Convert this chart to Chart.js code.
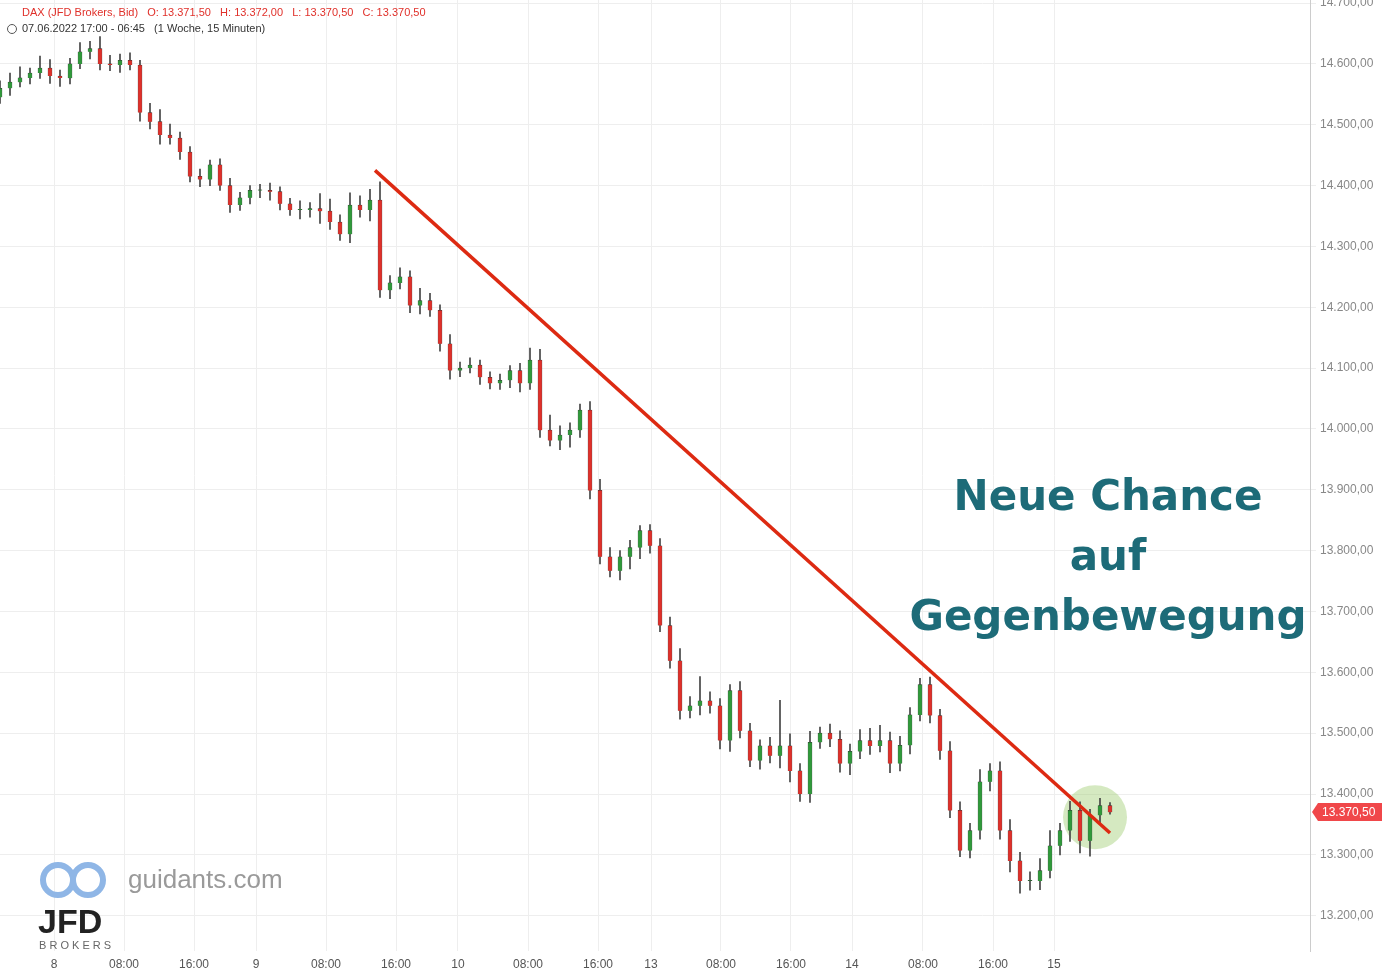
<!DOCTYPE html>
<html><head><meta charset="utf-8">
<script src="https://cdn.jsdelivr.net/npm/chart.js@4.4.1/dist/chart.umd.min.js"></script>
<style>html,body{margin:0;padding:0;background:#fff}#w{width:1382px;height:973px}</style>
</head><body><div id="w"><canvas id="c"></canvas></div>
<script>
// closes, one candle per slot
const closes=[14560,14570,14577,14585,14593,14580,14577,14600,14620,14625,14600,14598,14606,14598,14520,14505,14483,14478,14455,14415,14410,14434,14400,14368,14380,14392,14392,14390,14370,14360,14360,14362,14358,14340,14320,14368,14360,14376,14228,14240,14250,14203,14211,14195,14140,14096,14100,14105,14085,14075,14080,14096,14075,14113,13998,13981,13990,13998,14031,13899,13790,13767,13790,13805,13833,13808,13677,13619,13537,13545,13553,13545,13488,13570,13504,13455,13479,13463,13479,13438,13400,13485,13500,13490,13450,13470,13488,13479,13488,13450,13480,13530,13580,13529,13471,13373,13307,13340,13420,13438,13340,13290,13257,13257,13274,13315,13340,13373,13323,13365,13381,13370];
const firstOpen=14545;
const hiWick=[12,15,18,8,20,14,10,9,15,12,20,14,10,12,8,15,20,18,10,9,12,8,10,12,9,8,10,12,8,9,15,10,25,20,12,20,15,18,30,12,15,10,20,12,9,15,10,12,8,9,10,8,12,20,18,25,15,12,10,14,18,15,10,12,8,10,12,14,20,15,40,15,12,10,15,12,10,14,75,20,12,18,10,15,14,12,18,20,25,14,15,12,10,12,10,15,14,12,20,12,15,18,14,15,20,25,12,15,14,10,12,5];
const loWick=[10,12,8,10,9,12,14,10,8,12,10,9,12,8,14,12,15,10,12,9,12,10,8,12,9,10,12,14,10,9,15,12,20,12,10,14,12,18,12,14,10,12,14,10,12,14,10,8,12,9,10,12,14,10,12,9,15,20,12,14,12,10,15,20,18,12,10,12,14,12,15,12,14,18,12,10,14,12,20,18,12,14,10,12,14,18,12,14,10,15,12,14,10,12,14,12,10,12,14,15,14,18,20,15,14,12,15,18,20,25,14,3];
const tickPos=[5.4,12.4,19.4,25.6,32.6,39.6,45.8,52.8,59.8,65.1,72.1,79.1,85.2,92.3,99.3,105.4];
const tickLabels=['8','08:00','16:00','9','08:00','16:00','10','08:00','16:00','13','08:00','16:00','14','08:00','16:00','15'];
const trendStart={x:37.5,y:14425}, trendEnd={x:111,y:13336};
const lastPrice=13370.5;

const body=[],wick=[],colors=[];
closes.forEach((c,i)=>{const o=i?closes[i-1]:firstOpen;const x=i;
 body.push({x,y:[o,c===o?c+1:c]});wick.push({x,y:[Math.min(o,c)-loWick[i],Math.max(o,c)+hiWick[i]]});
 colors.push(c>=o?'#2f9a3a':'#e0302a');});
const fmt=v=>v.toLocaleString('de-DE',{minimumFractionDigits:2,maximumFractionDigits:2});

const deco={id:'deco',afterDraw(ch){const g=ch.ctx;g.save();
 g.font='11px "Liberation Sans"';g.fillStyle='#e0302a';g.textBaseline='middle';
 g.fillText('DAX (JFD Brokers, Bid)   O: 13.371,50   H: 13.372,00   L: 13.370,50   C: 13.370,50',22,13);
 g.fillStyle='#333';g.fillText('07.06.2022 17:00 - 06:45   (1 Woche, 15 Minuten)',22,29);
 g.strokeStyle='#555';g.beginPath();g.arc(12,29,4.5,0,7);g.stroke();
 g.fillStyle='#1d6b78';g.font='bold 42px "DejaVu Sans"';g.textAlign='center';
 g.fillText('Neue Chance',1108,499);g.fillText('auf',1108,559);g.fillText('Gegenbewegung',1108,619);
 g.textAlign='left';g.font='26px "Liberation Sans"';g.fillStyle='#9a9a9a';g.fillText('guidants.com',128,881);
 g.lineWidth=6;g.strokeStyle='#8fb6e6';g.beginPath();g.arc(58,880,15,0,7);g.stroke();g.beginPath();g.arc(88,880,15,0,7);g.stroke();
 g.font='bold 34px "Liberation Sans"';g.fillStyle='#222';g.fillText('JFD',38,924);
 g.font='11px "Liberation Sans"';g.fillStyle='#666';g.fillText('B R O K E R S',39,946);
 const y=ch.scales.y.getPixelForValue(lastPrice);g.fillStyle='#f0474a';
 g.beginPath();g.moveTo(1312,y);g.lineTo(1318,y-9);g.lineTo(1382,y-9);g.lineTo(1382,y+9);g.lineTo(1318,y+9);g.closePath();g.fill();
 g.fillStyle='#fff';g.font='12px "Liberation Sans"';g.fillText(fmt(lastPrice),1322,y+1);
 g.restore();}};

new Chart(document.getElementById('c'),{type:'bar',
 data:{datasets:[
  {type:'line',data:[trendStart,trendEnd],borderColor:'#dd2a12',borderWidth:3.5,pointRadius:0,order:0},
  {type:'scatter',data:[{x:109.5,y:13362}],pointRadius:32,backgroundColor:'rgba(150,200,100,0.4)',borderWidth:0,order:3},
  {data:body,backgroundColor:colors,borderColor:'#333',borderWidth:0.5,barThickness:4,grouped:false,order:1},
  {data:wick,backgroundColor:'#444',barThickness:1,grouped:false,order:2}]},
 options:{animation:false,responsive:true,maintainAspectRatio:false,
  layout:{padding:0,autoPadding:false},plugins:{legend:{display:false},tooltip:{enabled:false}},
  scales:{
   x:{type:'linear',offset:false,min:0,max:131,grid:{color:'#eeeeee',drawTicks:false,offset:false},border:{display:false},
    afterBuildTicks:a=>{a.ticks=tickPos.map(v=>({value:v}));},
    afterFit:a=>{a.height=22;},
    ticks:{autoSkip:false,maxRotation:0,padding:6,color:'#555',font:{size:12,family:'Liberation Sans'},callback:(v,i)=>tickLabels[i]}},
   y:{position:'right',min:13142,max:14705,grid:{color:'#eeeeee',drawTicks:true,tickLength:6},border:{color:'#ccc'},
    afterBuildTicks:a=>{const t=[];for(let v=13200;v<=14700;v+=100)t.push({value:v});a.ticks=t;},
    afterFit:a=>{a.width=72;a.paddingTop=0;a.paddingBottom=0;},
    ticks:{padding:4,color:'#888',font:{size:12,family:'Liberation Sans',lineHeight:0.1},callback:v=>fmt(v)}}}},
 plugins:[deco]});
</script></body></html>
